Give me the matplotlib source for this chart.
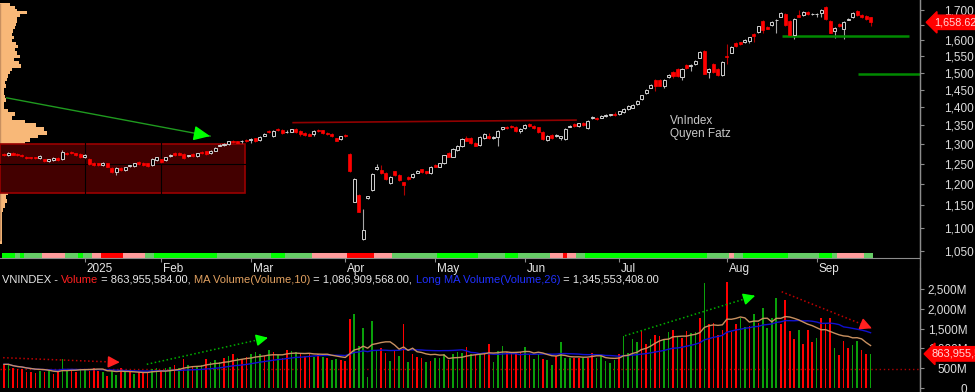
import matplotlib
matplotlib.use("Agg")
import matplotlib.pyplot as plt
import matplotlib.transforms as mtransforms
from matplotlib.lines import Line2D
import numpy as np
import pandas as pd

plt.rcParams['font.family'] = ['Liberation Sans', 'DejaVu Sans']

# ---------------- data ----------------
opens = [1275,1272,1277,1274,1272,1267,1267,1266,1264,1261,1257,1260,1265,1262,1278,1279,1276,1274,1267,1262,
         1252,1251,1246,1251,1239,1229,1239,1235,1244,1245,1254,1253,1251,1247,1260,1261,1259,1270,1277,1277,
         1275,1269,1274,1270,1280,1281,1277,1283,1296,1297,1301,1308,1307,1308,1311,1310,1315,1311,1322,1335,
         1321,1340,1338,1331,1333,1341,1335,1330,1327,1326,1338,1336,1329,1327,1315,1314,1324,1275,1159,1174,
         1075,1167,1186,1237,1235,1227,1203,1231,1222,1204,1217,1217,1228,1236,1231,1227,1247,1243,1251,1277,
         1268,1285,1294,1316,1317,1304,1298,1316,1322,1316,1318,1340,1346,1348,1346,1334,1342,1353,1349,1344,
         1332,1311,1324,1321,1316,1314,1346,1353,1347,1357,1342,1370,1371,1371,1374,1378,1382,1381,1386,1395,
         1398,1409,1423,1440,1455,1477,1478,1461,1486,1501,1512,1486,1523,1521,1526,1545,1566,1502,1525,1511,
         1493,1552,1561,1591,1593,1594,1598,1621,1627,1664,1642,1650,1665,1677,1686,1663,1617,1683,1683,1692,
         1685,1685,1689,1709,1664,1631,1652,1638,1667,1675,1698,1683,1680,1675]
closes = [1272,1277,1273,1271,1269,1264,1264,1264,1269,1256,1261,1264,1260,1279,1274,1276,1272,1267,1272,1249,
          1246,1247,1253,1243,1229,1239,1234,1241,1246,1251,1250,1247,1245,1262,1266,1254,1266,1273,1272,1273,
          1265,1271,1270,1276,1277,1274,1283,1291,1298,1300,1307,1305,1304,1309,1308,1313,1307,1319,1327,1332,
          1335,1337,1328,1333,1339,1332,1327,1324,1322,1335,1335,1328,1326,1320,1309,1320,1320,1231,1213,1136,
          1095,1171,1225,1242,1227,1212,1218,1221,1209,1198,1212,1225,1232,1229,1227,1243,1243,1251,1271,1268,
          1287,1295,1313,1309,1302,1296,1318,1326,1316,1318,1335,1344,1342,1344,1335,1340,1351,1347,1342,1332,
          1314,1321,1316,1324,1320,1340,1349,1347,1355,1351,1362,1372,1367,1375,1378,1380,1378,1388,1395,1403,
          1406,1417,1433,1449,1463,1461,1461,1478,1493,1489,1489,1512,1513,1524,1535,1562,1497,1512,1502,1493,
          1533,1548,1578,1581,1588,1601,1609,1614,1645,1633,1637,1660,1667,1690,1650,1617,1670,1677,1692,1686,
          1687,1687,1700,1669,1624,1641,1646,1660,1671,1689,1683,1675,1669,1659]
highs = [1278,1280,1279,1276,1274,1269,1268,1268,1271,1263,1263,1266,1267,1285,1280,1281,1278,1276,1274,1264,
         1254,1253,1255,1253,1241,1241,1241,1243,1248,1253,1256,1255,1253,1264,1268,1263,1268,1275,1279,1279,
         1277,1273,1276,1278,1282,1283,1285,1293,1300,1302,1309,1310,1309,1311,1313,1315,1317,1321,1329,1337,
         1337,1342,1340,1336,1341,1343,1337,1332,1329,1337,1340,1338,1331,1329,1317,1322,1326,1278,1215,1176,
         1142,1173,1227,1250,1247,1229,1220,1233,1224,1206,1219,1227,1234,1238,1233,1245,1249,1253,1273,1279,
         1289,1297,1315,1322,1319,1306,1320,1328,1330,1320,1337,1346,1348,1350,1348,1342,1353,1355,1351,1346,
         1334,1323,1326,1326,1322,1342,1351,1355,1357,1359,1364,1374,1373,1377,1380,1382,1386,1390,1397,1405,
         1408,1419,1435,1451,1466,1480,1481,1480,1495,1504,1515,1515,1526,1527,1538,1565,1569,1515,1528,1514,
         1536,1588,1581,1594,1596,1604,1612,1624,1648,1667,1645,1663,1670,1693,1689,1666,1673,1700,1695,1695,
         1690,1689,1703,1712,1667,1644,1655,1663,1674,1692,1701,1686,1683,1678]
lows = [1269,1270,1271,1269,1267,1262,1262,1262,1262,1254,1255,1258,1258,1260,1272,1274,1270,1265,1265,1247,
        1244,1245,1244,1241,1227,1222,1232,1233,1242,1243,1248,1245,1243,1245,1258,1252,1257,1268,1270,1271,
        1263,1267,1268,1268,1275,1272,1275,1281,1294,1295,1299,1303,1302,1302,1306,1302,1305,1309,1320,1330,
        1319,1335,1326,1329,1331,1330,1322,1322,1320,1321,1333,1326,1324,1318,1307,1312,1318,1229,1157,1134,
        1073,1165,1184,1235,1225,1210,1201,1219,1207,1174,1210,1215,1226,1227,1225,1225,1241,1241,1249,1266,
        1266,1283,1292,1307,1300,1294,1296,1314,1314,1314,1296,1338,1340,1342,1333,1328,1340,1345,1340,1330,
        1312,1309,1314,1319,1312,1312,1344,1345,1345,1349,1340,1368,1365,1369,1372,1376,1376,1379,1384,1393,
        1396,1407,1421,1438,1453,1445,1459,1455,1484,1485,1487,1478,1511,1505,1524,1543,1495,1485,1500,1491,
        1491,1526,1559,1579,1586,1592,1590,1596,1625,1623,1635,1648,1623,1675,1648,1614,1605,1675,1681,1684,
        1683,1676,1675,1667,1622,1606,1644,1604,1665,1673,1681,1673,1667,1646]

volumes_m = [599,599,498,481,481,396,396,371,430,396,447,363,396,725,481,481,413,481,455,430,
             498,430,396,304,430,329,514,413,430,346,396,371,396,481,514,430,498,531,582,498,
             725,582,565,540,582,734,666,717,666,751,818,852,751,725,784,852,919,852,818,953,
             902,835,751,961,936,902,852,818,877,793,852,793,767,708,734,700,683,1737,1864,1071,
             1526,287,1695,936,1004,877,683,936,818,1611,666,852,793,751,649,683,751,751,852,708,
             852,902,877,1046,852,835,877,852,1105,649,936,1071,902,902,877,902,1046,835,734,852,
             734,708,582,818,1155,767,751,767,751,751,767,877,751,818,683,624,708,852,1324,877,
             1240,1172,1442,1105,1240,1341,1324,1214,1408,1467,1324,1257,1442,1383,1425,1779,2648,1611,1636,1341,
             1467,2690,1408,1611,1779,1552,1577,1864,1636,2016,1526,1779,2285,1611,2226,1442,1240,1467,1105,1467,
             1155,1257,1763,1636,1763,1004,835,1189,1004,1088,1189,961,852,864]
vol_dir = ("grrrrrrgrgrrggrrggrrrgrggrgrgrrrggrggrgrgrggrgggrgrgrrgggrgrgrrggrrrgrgrggrrrggggggrrgrgrgrrrgrgggrgggrgrgr"
           "rgggrrrrgrggrggrgggrrgrrgggggrggggrrgrrggrgrrggrgrrrrrrrggrgrggggrrrrgrrrgrrrgrrrggrrgggrrrr")
vol_dir = "r" + vol_dir[:193]

trend_runs = [("G",3),("L",1),("G",1),("L",4),("P",5),("L",3),("G",1),("L",2),("P",2),("R",5),("P",5),("L",2),
              ("G",14),("L",12),("G",3),("L",6),("P",8),("R",6),("P",4),("L",10),("G",9),("L",6),("G",3),("L",7),
              ("P",3),("R",1),("P",2),("L",2),("G",27),("L",5),("P",1),("L",2),("G",10),("L",7),("G",3),("L",1),
              ("P",6),("L",2)]

profile_prices = list(range(1720, 1060, -10))
profile_vol = [10,15,17,27,20,17,17,16,15,13,12,14,12,16,18,15,17,20,14,19,
               21,12,10,8,7,5,6,4,4,5,6,4,4,8,15,12,25,36,44,47,
               38,30,25,30,35,40,45,40,35,30,25,20,15,10,8,6,7,5,3,2,
               2,2,2,2,2,2]

month_idx = [18, 35, 55, 76, 96, 116, 137, 161, 181]
month_labels = ["2025", "Feb", "Mar", "Apr", "May", "Jun", "Jul", "Aug", "Sep"]
price_ticks = [1050,1100,1150,1200,1250,1300,1350,1400,1450,1500,1550,1600,1650,1700]
price_tick_labels = ["1,050","1,100","1,150","1,200","1,250","1,300","1,350","1,400","1,450","1,500","1,550","1,600","","1,700"]
vol_ticks = [0, 500, 1000, 1500, 2000, 2500]
vol_tick_labels = ["0", "500M", "1,000M", "1,500M", "2,000M", "2,500M"]

last_close = 1658.62
last_volume_label = "863,955,584"

box_x = (-1, 53.7); box_price = (1180, 1300)
trend_arrow = ((0.6, 1426), (45.9, 1321))
resist_line = ((64.4, 1357), (127.4, 1364))
support_lines = [((173.2, 1615), (201.5, 1615)), ((190.2, 1496), (204.5, 1496))]
vol_arrows = [((-0.2, 767), (25.8, 650), "#c00000", "#ff2020"),
              ((31.8, 600), (58.8, 1273), "#00b000", "#00ff00"),
              ((138.3, 1323), (167.3, 2335), "#00b000", "#00ff00"),
              ((173.2, 2436), (193.3, 1510), "#c00000", "#ff2020")]
vol_ref_level = 480

# ---------------- figure ----------------
W, H = 975, 392
fig = plt.figure(figsize=(W/100, H/100), dpi=100, facecolor="black")
AXR = 920
def fx(px): return px / W
def fy(py): return 1 - py / H

axv = fig.add_axes([0, 0, fx(AXR), 124/H])
axv.patch.set_alpha(0)
ax = fig.add_axes([0, fy(258), fx(AXR), 258/H], facecolor="black")
axt = fig.add_axes([0, fy(258), fx(AXR), 5/H])
axt.patch.set_alpha(0)

n = len(closes)
x = np.arange(n)
xlim = (-4/4.49, 916/4.49)

ax.set_yscale("log")
ax.set_ylim(1035.2, 1734.3)
ax.set_xlim(*xlim)

o = np.array(opens, float); c = np.array(closes, float)
h = np.array(highs, float); l = np.array(lows, float)
up = c >= o

# volume profile (under the box)
ax.barh(profile_prices, np.array(profile_vol)/4.49, left=xlim[0], height=10,
        color="#f8b878", zorder=0.5, linewidth=0)
ax.plot([xlim[0]+0.1]*2, [1073, 1720], color="#c89060", lw=1, zorder=0.6)

# box
ax.add_patch(plt.Rectangle((box_x[0], box_price[0]), box_x[1]-box_x[0], box_price[1]-box_price[0],
                           facecolor="#430000", edgecolor="#9a0000", lw=1.2, zorder=1))
# black grid only visible over the box
ax.vlines(month_idx, 1035, 1735, color="black", lw=0.8, zorder=1.5)
ax.axhline(1250, color="black", lw=0.8, zorder=1.5)

# candles
ax.vlines(x[up], l[up], h[up], color="#a8a8a8", lw=0.8, zorder=2)
ax.vlines(x[~up], l[~up], h[~up], color="#b00000", lw=0.8, zorder=2)
bw = 0.68
hu = np.maximum(c[up]-o[up], 1.2)
ax.bar(x[up], hu, bottom=o[up], width=bw, facecolor="black", edgecolor="#d0d0d0", lw=0.7, zorder=3)
hd = np.maximum(o[~up]-c[~up], 1.2)
ax.bar(x[~up], hd, bottom=c[~up], width=bw, facecolor="#ff0000", edgecolor="#ff0000", lw=0.5, zorder=3)

# lines
(rx0, ry0), (rx1, ry1) = resist_line
ax.plot([rx0, rx1], [ry0, ry1], color="#900000", lw=1.2, zorder=2.5)
for (sx0, sy0), (sx1, sy1) in support_lines:
    ax.plot([sx0, sx1], [sy0, sy1], color="#008a00", lw=1.8, zorder=2.5, solid_capstyle="butt")

fig.canvas.draw()

def arrow(a, p0, p1, lc, hc, ls, lw, hl=0.7, hw=0.35):
    a.plot([p0[0], p1[0]], [p0[1], p1[1]], color=lc, ls=ls, lw=lw, zorder=4)
    d0 = a.transData.transform(p0); d1 = a.transData.transform(p1)
    v = d1 - d0; v = v / np.hypot(*v)
    dm = d1 - v * 9
    pm = a.transData.inverted().transform(dm)
    a.annotate("", xy=p1, xytext=pm,
               arrowprops=dict(arrowstyle=f"-|>,head_length={hl},head_width={hw}", color=hc, lw=lw,
                               shrinkA=0, shrinkB=0), zorder=5)

arrow(ax, trend_arrow[0], trend_arrow[1], "#1f9a1f", "#00ff00", "-", 1.0, hl=1.0, hw=0.45)

# texts
ax.text(670/AXR, (258-120.7)/258, "VnIndex", transform=ax.transAxes, color="#c8c8c8",
        fontsize=8.5, va="center", ha="left")
ax.text(670/AXR, (258-134)/258, "Quyen Fatz", transform=ax.transAxes, color="#c8c8c8",
        fontsize=8.5, va="center", ha="left")

# price axis
for a in (ax, axv):
    for s in ("top", "left", "bottom"):
        a.spines[s].set_visible(False)
    a.spines["right"].set_color("#8c8c8c")
    a.yaxis.tick_right()
    a.tick_params(axis="x", which="both", bottom=False, labelbottom=False)
ax.yaxis.set_minor_locator(matplotlib.ticker.NullLocator())
ax.set_yticks(price_ticks)
ax.set_yticklabels(price_tick_labels)
ax.tick_params(axis="y", which="both", colors="#8c8c8c", labelcolor="#dcdcdc", length=3,
               labelsize=8.5, pad=36)
for t in ax.get_yticklabels():
    t.set_horizontalalignment("right")

tb = mtransforms.blended_transform_factory(ax.transAxes, ax.transData)
ax.text(934/AXR, last_close, "1,658.62", transform=tb, color="#ffd8d8", fontsize=7.8, va="center", ha="left",
        bbox=dict(boxstyle="larrow,pad=0.2", fc="#ff0000", ec="#ff0000"), clip_on=False, zorder=10)

# trend strip
cmap = {"G": "#00ff00", "L": "#66cc66", "P": "#ff9c9c", "R": "#ff0000"}
codes = "".join(k * m for k, m in trend_runs)
axt.bar(x[:len(codes)], 1, width=1.0, bottom=0, color=[cmap[k] for k in codes], linewidth=0)
axt.set_xlim(*xlim); axt.set_ylim(0, 1)
for s in ("top", "left", "right"):
    axt.spines[s].set_visible(False)
axt.spines["bottom"].set_color("#8c8c8c")
axt.set_yticks([])
axt.set_xticks(month_idx)
axt.set_xticklabels(month_labels)
axt.tick_params(axis="x", colors="#8c8c8c", labelcolor="#e6e6e6", length=3, labelsize=8.5, pad=0.5)
off = mtransforms.ScaledTranslation(2/72*0.72, 0, fig.dpi_scale_trans)
for t in axt.get_xticklabels():
    t.set_horizontalalignment("left")
    t.set_transform(t.get_transform() + off)

# volume panel
axv.set_xlim(*xlim)
axv.set_ylim(-101, 3036)
vol = np.array(volumes_m, float)
vcols = ["#ff0000" if d == "r" else "#0aa00a" for d in vol_dir]
axv.bar(x, vol, width=0.36, color=vcols, linewidth=0, zorder=2)
ma10 = pd.Series(vol).rolling(10, min_periods=1).mean()
ma26 = pd.Series(vol).rolling(26, min_periods=1).mean()
axv.plot(x, ma26, color="#1010d0", lw=1.0, zorder=3)
axv.plot(x, ma10, color="#c89060", lw=1.0, zorder=3)
axv.axhline(vol_ref_level, color="#b00000", ls=(0, (1, 2)), lw=1.0, zorder=1)
axv.set_yticks(vol_ticks)
axv.set_yticklabels(vol_tick_labels)
axv.tick_params(axis="y", colors="#8c8c8c", labelcolor="#dcdcdc", length=3, labelsize=8.5, pad=31)
for t in axv.get_yticklabels():
    t.set_horizontalalignment("right")

fig.canvas.draw()
for p0, p1, lc, hc in vol_arrows:
    arrow(axv, p0, p1, lc, hc, ":", 1.1, hl=0.7, hw=0.35)

tv = mtransforms.blended_transform_factory(axv.transAxes, axv.transData)
axv.text(932/AXR, vol[-1], last_volume_label, transform=tv, color="#ffd8d8", fontsize=8, va="center", ha="left",
         bbox=dict(boxstyle="larrow,pad=0.2", fc="#ff0000", ec="#ff0000"), clip_on=False, zorder=10)

pieces = [("VNINDEX - ", "#e8e8e8"), ("Volume", "#ff2020"), (" = 863,955,584.00, ", "#e8e8e8"),
          ("MA Volume(Volume,10)", "#e0a060"), (" = 1,086,909,568.00, ", "#e8e8e8"),
          ("Long MA Volume(Volume,26)", "#2030ff"), (" = 1,345,553,408.00", "#e8e8e8")]
t = axv.text(2/AXR, (392-280)/124, pieces[0][0], transform=axv.transAxes, color=pieces[0][1],
             fontsize=8, va="center", ha="left")
for s, col in pieces[1:]:
    t = axv.annotate(s, xy=(1, 0.5), xycoords=t, va="center", ha="left", color=col, fontsize=8)

fig.add_artist(Line2D([fx(AXR)]*2, [0, 1], transform=fig.transFigure, color="#8c8c8c", lw=1))

fig.savefig("out.png", dpi=100, facecolor="black")
